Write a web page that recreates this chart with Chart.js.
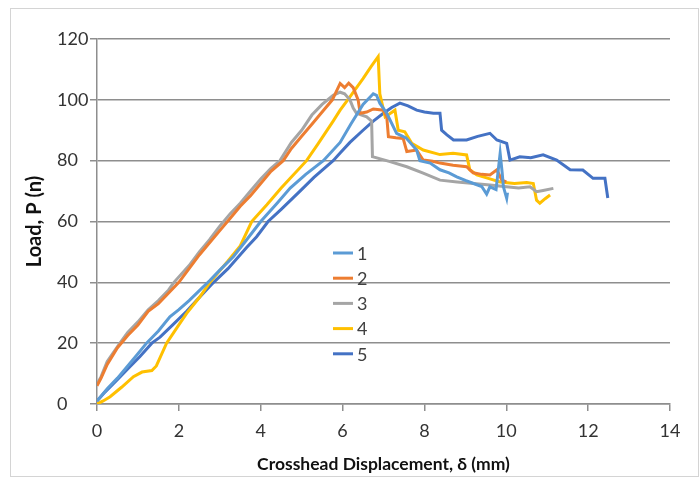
<!DOCTYPE html>
<html>
<head>
<meta charset="utf-8">
<script src="https://cdn.jsdelivr.net/npm/chart.js@4.4.1/dist/chart.umd.min.js"></script>
<style>
  body { margin: 0; background: #fff; }
  #wrap { position: relative; width: 699px; height: 478px; }
  #frame { position: absolute; left: 10px; top: 8px; width: 687px; height: 467px; border: 1px solid #d4d4d4; pointer-events: none; }
  canvas { position: absolute; left: 0; top: 0; }
</style>
</head>
<body>
<div id="wrap">
  <canvas id="load--chart" width="699" height="478"></canvas>
  <div id="frame"></div>
</div>
<script>
'use strict'

// specimen labels and colours
const specimens = ['1', '2', '3', '4', '5'];
const colours = ['#5B9BD5', '#ED7D31', '#A5A5A5', '#FFC000', '#4472C4'];

// crosshead displacement (mm) and load readings per specimen
const disp1 = [0, 0.25, 0.5, 0.75, 1, 1.21, 1.5, 1.78, 2, 2.25, 2.52, 2.75, 3, 3.33, 3.6, 4.0, 4.4, 4.72, 5.1, 5.53, 5.94, 6.2, 6.5, 6.75, 6.83, 6.91, 7.08, 7.32, 7.55, 7.81, 7.89, 8.14, 8.38, 8.6, 8.79, 9.0, 9.2, 9.4, 9.52, 9.6, 9.75, 9.85, 9.9, 9.93, 10.01, 10.03];
const load1 = [1, 5, 8.5, 12.5, 16.5, 20, 24, 28.7, 31, 34, 37.5, 40.5, 44, 48.4, 53, 60, 66, 71, 75.5, 80, 86, 92, 98.5, 102, 101.5, 98.9, 95.6, 89, 87.5, 83.5, 80, 79.2, 77, 76, 74.7, 73.5, 72.5, 71.5, 69, 71.4, 70.5, 82.4, 76, 71.4, 67.6, 69.5];

const disp2 = [0, 0.1, 0.25, 0.5, 0.75, 1, 1.25, 1.5, 1.75, 2, 2.25, 2.5, 2.75, 3, 3.25, 3.5, 3.75, 4, 4.25, 4.55, 4.75, 5, 5.25, 5.5, 5.75, 5.94, 6.05, 6.15, 6.26, 6.38, 6.43, 6.59, 6.75, 7.0, 7.08, 7.12, 7.3, 7.48, 7.57, 7.81, 7.97, 8.2, 8.38, 8.7, 9.03, 9.19, 9.4, 9.6, 9.77, 9.89, 10.0];
const load2 = [6, 8.5, 13, 18.5, 22.5, 26, 30.5, 33, 36.5, 40, 44.5, 49, 53, 57, 61, 65, 68.5, 72.5, 76.5, 80, 84, 88, 92, 96, 100, 105.4, 104, 105.5, 104, 100, 95.6, 96, 97, 96.6, 94.4, 87.9, 87.5, 87.3, 83, 83.5, 80.2, 79.8, 79.2, 78.5, 78, 76, 75.5, 75.3, 77, 73.6, 73];

const disp3 = [0, 0.1, 0.25, 0.56, 0.75, 1, 1.25, 1.5, 1.75, 1.88, 2.25, 2.5, 2.75, 3, 3.25, 3.5, 3.75, 4, 4.25, 4.47, 4.75, 5, 5.25, 5.5, 5.77, 5.94, 6.05, 6.18, 6.26, 6.34, 6.59, 6.71, 6.73, 7.16, 7.57, 7.97, 8.38, 8.8, 9.2, 9.6, 10.0, 10.3, 10.58, 10.74, 10.9, 11.15];
const load3 = [6.5, 9, 14, 20, 23.5, 27, 31, 34, 37.5, 40, 45.5, 50, 54, 58.5, 62.5, 66, 70, 74, 77.5, 80, 86, 90, 95, 98.5, 101.5, 102.5, 102, 100, 97.3, 95.6, 94.4, 93, 81.3, 79.7, 78, 75.9, 73.6, 73, 72.5, 72, 71.4, 71, 71.4, 69.8, 70.2, 70.9];

const disp4 = [0, 0.15, 0.32, 0.6, 0.89, 1.1, 1.34, 1.45, 1.7, 1.95, 2.19, 2.5, 2.76, 3.2, 3.5, 3.78, 4.15, 4.5, 5.12, 5.4, 5.77, 5.94, 6.18, 6.5, 6.7, 6.87, 6.91, 7.04, 7.28, 7.36, 7.52, 7.69, 7.97, 8.38, 8.7, 9.03, 9.11, 9.28, 9.6, 9.85, 10.2, 10.5, 10.66, 10.74, 10.82, 10.95, 11.07];
const load4 = [0, 1, 2.4, 5.5, 9, 10.5, 11, 12.5, 20, 25, 29.8, 35, 40, 47, 52, 60, 65.5, 71, 80, 85.5, 93, 96.6, 101, 107, 111, 114.2, 102, 94.4, 96.6, 90, 89.5, 85.7, 83.5, 82, 82.4, 81.9, 77, 75.3, 74, 73, 72.5, 72.8, 72.5, 67, 66, 67.5, 68.7];

const disp5 = [0, 0.2, 0.49, 0.75, 1.05, 1.34, 1.54, 1.85, 2.19, 2.5, 2.85, 3.2, 3.66, 3.9, 4.18, 4.5, 4.96, 5.3, 5.77, 5.94, 6.18, 6.5, 6.75, 6.99, 7.2, 7.4, 7.6, 7.81, 8.0, 8.22, 8.38, 8.42, 8.55, 8.71, 9.03, 9.3, 9.6, 9.77, 10.01, 10.09, 10.33, 10.6, 10.9, 11.23, 11.56, 11.87, 12.12, 12.41, 12.48];
const load5 = [1, 4, 7.9, 11.5, 15.6, 20, 22, 26, 30.5, 35, 40, 44.5, 51.5, 55, 60, 64, 70, 74.5, 80, 82.5, 86, 90, 93, 95.5, 97.5, 98.9, 98, 96.6, 96, 95.6, 95.6, 90, 88.5, 86.8, 86.8, 88, 89, 86.8, 85.7, 80.2, 81.3, 81, 81.9, 80.2, 77, 76.9, 74.2, 74.2, 67.7];

const displacements = [disp1, disp2, disp3, disp4, disp5];
const loads = [load1, load2, load3, load4, load5];

const FONT = 'Lato, "Liberation Sans", sans-serif';
const GRID = '#8e8e8e';

// legend drawn inside the plot area, like the spreadsheet original
const insideLegend = {
    id: 'insideLegend',
    afterDraw(chart) {
        const ctx = chart.ctx;
        ctx.save();
        ctx.font = '18px ' + FONT;
        ctx.textBaseline = 'middle';
        chart.data.datasets.forEach(function(ds, i) {
            const y = 253 + i * 25.2;
            ctx.strokeStyle = ds.borderColor;
            ctx.lineWidth = 3;
            ctx.beginPath();
            ctx.moveTo(333, y);
            ctx.lineTo(353, y);
            ctx.stroke();
            ctx.fillStyle = '#404040';
            ctx.fillText(ds.label, 357, y + 1);
        });
        ctx.restore();
    }
};

const line_chart = {
    type: 'line',
    data: {
        datasets: specimens.map(function(name, i) {
            return {
                label: name,
                data: displacements[i].map(function(x, j) { return {x: x, y: loads[i][j]}; }),
                borderColor: colours[i],
                backgroundColor: colours[i],
                borderWidth: 3,
                pointRadius: 0,
                tension: 0,
                fill: false
            };
        })
    },
    options: {
        responsive: false,
        animation: false,
        layout: { padding: { left: 57, top: 39, right: 29, bottom: 0 } },
        plugins: {
            legend: { display: false },
            tooltip: { enabled: false }
        },
        scales: {
            x: {
                type: 'linear',
                min: 0,
                max: 14,
                ticks: { stepSize: 2, color: '#333', font: { family: FONT, size: 18 }, padding: 9 },
                grid: { drawOnChartArea: false, drawTicks: true, tickLength: 7, color: GRID, lineWidth: 1.5 },
                border: { color: GRID, width: 1.5 },
                title: {
                    display: true,
                    text: 'Crosshead Displacement, δ (mm)',
                    color: '#111',
                    font: { family: FONT, size: 17.5, weight: 'bold' },
                    padding: { top: 0, bottom: 3 }
                },
                afterFit: function(scale) { scale.height = 74; }
            },
            y: {
                min: 0,
                max: 120,
                ticks: { stepSize: 20, color: '#333', font: { family: FONT, size: 18 }, padding: 3, crossAlign: 'far' },
                grid: { color: GRID, lineWidth: 1.5, drawTicks: true, tickLength: 7 },
                border: { color: GRID, width: 1.5 },
                title: {
                    display: true,
                    text: 'Load, P (n)',
                    color: '#111',
                    font: { family: FONT, size: 20, weight: 'bold' },
                    padding: { top: -34, bottom: 0 }
                },
                afterFit: function(scale) { scale.width = 40; }
            }
        }
    },
    plugins: [insideLegend]
};

document.addEventListener('DOMContentLoaded', function() {
    new Chart(document.getElementById('load--chart').getContext('2d'), line_chart)
});
</script>
</body>
</html>
